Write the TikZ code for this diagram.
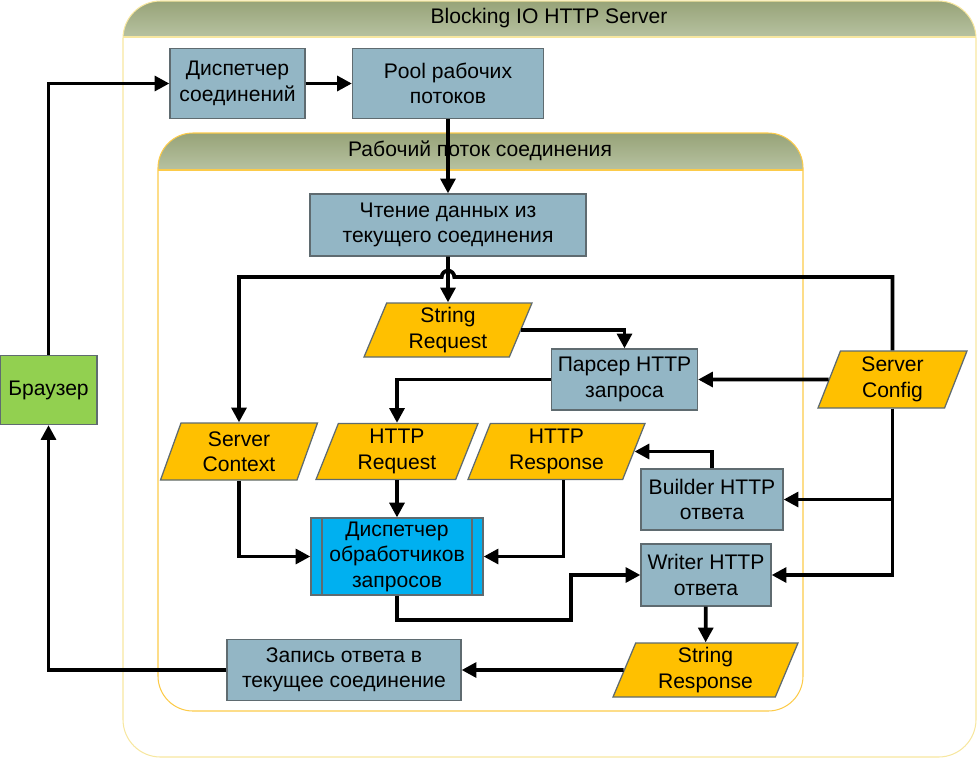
\documentclass[tikz,border=0pt,12pt]{standalone}
\usepackage{fontspec}
\setmainfont{Liberation Sans}
\usetikzlibrary{arrows.meta,shapes.geometric,positioning}

\definecolor{boxblue}{HTML}{93B6C5}
\definecolor{boxline}{HTML}{5F6B70}
\definecolor{dataorange}{HTML}{FFC000}
\definecolor{browsergreen}{HTML}{92D050}
\definecolor{dispcyan}{HTML}{00B0F0}
\definecolor{headtop}{HTML}{97A378}
\definecolor{headbot}{HTML}{B7C2A1}
\definecolor{outerline}{HTML}{F7E7A0}
\definecolor{innerline}{HTML}{FCCB4A}

\tikzset{
	proc/.style={draw=boxline, fill=boxblue, line width=.06em, align=center, inner sep=2pt},
	data/.style={trapezium, trapezium left angle=65, trapezium right angle=115, trapezium stretches body,
		draw=boxline, fill=dataorange, line width=.06em, align=center, inner sep=1pt},
	flow/.style={-{Triangle[length=.7em,width=.7em]}, line width=.18em},
}

\begin{document}
\begin{tikzpicture}[x=0.02cm, y=-0.02cm]
			\useasboundingbox (0,0) rectangle (977,758);
			% containers
			\begin{scope}
				\clip[rounded corners=.75cm] (123,1) rectangle (976,757);
				\shade[top color=headtop, bottom color=headbot] (123,1) rectangle (976,37);
			\end{scope}
			\draw[outerline, line width=.05em, rounded corners=.75cm] (123,1) rectangle (976,757);
			\draw[outerline, line width=.05em] (123,37) -- (976,37);
			\node (srvtitle) at (549,18) {Blocking IO HTTP Server};

			\begin{scope}
				\clip[rounded corners=.7cm] (158,133) rectangle (803,711);
				\shade[top color=headtop, bottom color=headbot] (158,133) rectangle (803,170);
			\end{scope}
			\draw[innerline, line width=.05em, rounded corners=.7cm] (158,133) rectangle (803,711);
			\draw[innerline, line width=.05em] (158,170) -- (803,170);
			\node (wtitle) at (480,151) {Рабочий поток соединения};

			% nodes
			\node[proc, fill=browsergreen, minimum width=1.94cm, minimum height=1.38cm] (brw) at (48.5,390) {Браузер};
			\node[proc, minimum width=2.7cm, minimum height=1.4cm] (cdisp) at (237.5,83.5) {Диспетчер\\соединений};
			\node[proc, minimum width=3.82cm, minimum height=1.4cm] (pool) at (448,83.5) {Pool рабочих\\потоков};
			\node[proc, minimum width=5.52cm, minimum height=1.24cm] (read) at (448,225) {Чтение данных из\\текущего соединения};
			\node[data, minimum width=3.36cm, minimum height=1.08cm] (sreq) at (448,330) {String\\Request};
			\node[proc, minimum width=2.92cm, minimum height=1.22cm] (parser) at (624.5,379.5) {Парсер HTTP\\запроса};
			\node[data, minimum width=2.98cm, minimum height=1.14cm] (cfg) at (892.5,379.5) {Server\\Config};
			\node[data, minimum width=3.14cm, minimum height=1.14cm] (ctx) at (239,451.5) {Server\\Context};
			\node[data, minimum width=3.24cm, minimum height=1.12cm] (hreq) at (397,451.5) {HTTP\\Request};
			\node[data, minimum width=3.54cm, minimum height=1.12cm] (hresp) at (556.5,451.5) {HTTP\\Response};
			\node[proc, minimum width=2.84cm, minimum height=1.22cm] (builder) at (712,499.5) {Builder HTTP\\ответа};
			\node[proc, fill=dispcyan, minimum width=3.44cm, minimum height=1.5cm] (hdisp) at (397,556.5) {Диспетчер\\обработчиков\\запросов};
			\draw[boxline, line width=.06em] ([xshift=.23cm]hdisp.north west) -- ([xshift=.23cm]hdisp.south west);
			\draw[boxline, line width=.06em] ([xshift=-.23cm]hdisp.north east) -- ([xshift=-.23cm]hdisp.south east);
			\node[proc, minimum width=2.6cm, minimum height=1.24cm] (writer) at (706,575) {Writer HTTP\\ответа};
			\node[data, minimum width=3.7cm, minimum height=1.08cm] (sresp) at (705.5,670) {String\\Response};
			\node[proc, minimum width=4.68cm, minimum height=1.22cm] (wr) at (344,670) {Запись ответа в\\текущее соединение};

			% connectors
			\coordinate (hop) at (448,277);
			\coordinate (bend) at (571,620);
			\draw[flow] (brw.north) |- (cdisp.west);
			\draw[flow] (cdisp) -- (pool);
			\draw[flow] (pool) -- (read);
			\draw[flow] (read) -- (sreq);
			\draw[flow] (cfg.north) |- ([xshift=.3em]hop) arc[start angle=0, end angle=180, radius=.3em] -| (ctx.north);
			\draw[flow] (sreq.east) -| (parser.north);
			\draw[flow] (cfg.west) -- (parser.east);
			\draw[flow] (parser.west) -| (hreq.north);
			\draw[flow] (cfg.south) |- (builder.east);
			\draw[flow] (cfg.south) |- (writer.east);
			\draw[flow] (builder.north) |- (hresp.east);
			\draw[flow] (ctx.south) |- (hdisp.west);
			\draw[flow] (hreq) -- (hdisp);
			\draw[flow] ([xshift=.14cm]hresp.south) |- (hdisp.east);
			\draw[flow] (hdisp.south) |- (bend) |- (writer.west);
			\draw[flow] (writer) -- (sresp);
			\draw[flow] (sresp.west) -- (wr.east);
			\draw[flow] (wr.west) -| (brw.south);
		\end{tikzpicture}
\end{document}
